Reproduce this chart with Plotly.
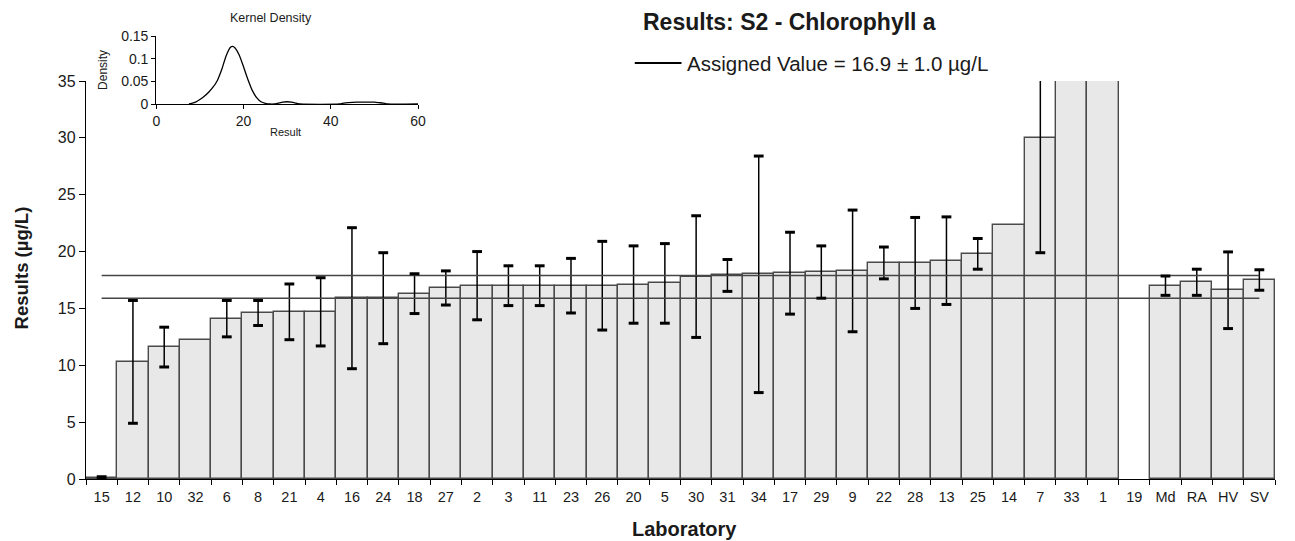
import plotly.graph_objects as go

# ---- data -------------------------------------------------------------
labs = ["15", "12", "10", "32", "6", "8", "21", "4", "16", "24", "18", "27",
        "2", "3", "11", "23", "26", "20", "5", "30", "31", "34", "17", "29",
        "9", "22", "28", "13", "25", "14", "7", "33", "1", "19",
        "Md", "RA", "HV", "SV"]

results = [0.1, 10.3, 11.6, 12.2, 14.1, 14.6, 14.7, 14.7, 15.9, 15.9, 16.3, 16.8,
           17.0, 17.0, 17.0, 17.0, 17.0, 17.1, 17.2, 17.8, 17.9, 18.0, 18.1, 18.2,
           18.3, 19.0, 19.0, 19.2, 19.8, 22.3, 30.0, 45.5, 48.5, None,
           17.0, 17.3, 16.6, 17.5]

uncert = [0.1, 5.4, 1.75, None, 1.6, 1.1, 2.45, 3.0, 6.2, 4.0, 1.75, 1.5,
          3.0, 1.75, 1.75, 2.4, 3.9, 3.4, 3.5, 5.35, 1.4, 10.4, 3.6, 2.3,
          5.35, 1.4, 4.0, 3.85, 1.35, None, 10.1, None, None, None,
          0.85, 1.15, 3.37, 0.9]

assigned_value = 16.9
assigned_unc = 1.0

kde_x = [7.5, 9, 10, 11, 12, 13, 14, 15, 16, 17, 17.5, 18, 19, 20, 21, 22, 23, 24,
         25, 26, 27, 28, 29, 30, 31, 32, 33, 42, 43, 44, 46, 48, 50, 51, 52, 53, 60]
kde_y = [0.0, 0.004, 0.010, 0.017, 0.026, 0.037, 0.052, 0.076, 0.106, 0.125, 0.127,
         0.124, 0.108, 0.082, 0.054, 0.030, 0.014, 0.005, 0.0015, 0.0, 0.0, 0.002,
         0.004, 0.005, 0.004, 0.002, 0.0, 0.0, 0.002, 0.003, 0.004, 0.004, 0.004,
         0.003, 0.002, 0.0, 0.0]

FONT = "Liberation Sans, Arial, sans-serif"
W, H = 1295, 541
ML, MR, MT, MB = 86, 13, 30, 62
PW, PH = W - ML - MR, H - MT - MB


def px(xp):
    return (xp - ML) / PW


def py(yp):
    return (H - MB - yp) / PH


fig = go.Figure()

# bars with uncertainty stems
fig.add_trace(go.Bar(
    x=labs, y=results, width=1,
    marker=dict(color="#e8e8e8", line=dict(color="#4a4a4a", width=1.4)),
    error_y=dict(type="data", array=[u if u is not None else 0 for u in uncert],
                 visible=True, color="black", thickness=1.5, width=0),
    showlegend=False, hoverinfo="x+y",
))

# assigned value band limits
for lvl in (assigned_value + assigned_unc, assigned_value - assigned_unc):
    fig.add_trace(go.Scatter(
        x=[labs[0], labs[-1]], y=[lvl, lvl], mode="lines",
        line=dict(color="#454545", width=1.5), showlegend=False, hoverinfo="skip",
    ))

# error bar caps
cap_x, cap_y = [], []
for lab, v, u in zip(labs, results, uncert):
    if v is None or u is None:
        continue
    cap_x += [lab, lab]
    cap_y += [v + u, v - u]
fig.add_trace(go.Scatter(
    x=cap_x, y=cap_y, mode="markers",
    marker=dict(symbol="line-ew", size=7, line=dict(width=3, color="black")),
    showlegend=False, hoverinfo="skip",
))

# kernel density inset
fig.add_trace(go.Scatter(
    x=kde_x, y=kde_y, xaxis="x2", yaxis="y2", mode="lines",
    line=dict(color="black", width=1.3, shape="spline", smoothing=0.6),
    showlegend=False, hoverinfo="skip",
))

main_top = py(81)

fig.update_layout(
    width=W, height=H,
    margin=dict(l=ML, r=MR, t=MT, b=MB),
    paper_bgcolor="white", plot_bgcolor="white",
    font=dict(family=FONT, color="#1a1a1a"),
    bargap=0,
    xaxis=dict(
        domain=[0, 1], anchor="y", type="category",
        categoryorder="array", categoryarray=labs, range=[-0.5, len(labs) - 0.5],
        showline=True, linecolor="black", linewidth=1.3,
        ticks="outside", tickson="boundaries", ticklen=5, tickcolor="black",
        tickfont=dict(size=14.5), ticklabelstandoff=4,
        showgrid=False, zeroline=False,
    ),
    yaxis=dict(
        domain=[0, main_top], anchor="x", range=[0, 35], dtick=5,
        showline=True, linecolor="black", linewidth=1.3,
        ticks="outside", ticklen=6, tickcolor="black",
        tickfont=dict(size=16), showgrid=False, zeroline=False,
    ),
    xaxis2=dict(
        domain=[px(156.7), px(420)], anchor="y2", range=[0, 60],
        tickvals=[0, 20, 40, 60],
        showline=True, linecolor="black", linewidth=1.2,
        ticks="outside", ticklen=4, tickcolor="black",
        tickfont=dict(size=14), showgrid=False, zeroline=False,
    ),
    yaxis2=dict(
        domain=[py(104), py(36)], anchor="x2", range=[0, 0.15],
        tickvals=[0, 0.05, 0.1, 0.15], ticktext=["0", "0.05", "0.1", "0.15"],
        showline=True, linecolor="black", linewidth=1.2,
        ticks="outside", ticklen=4, tickcolor="black",
        tickfont=dict(size=14), showgrid=False, zeroline=False,
    ),
    showlegend=False,
)

# legend sample line
fig.add_shape(type="line", xref="paper", yref="paper",
              x0=px(638), x1=px(685), y0=py(63), y1=py(63),
              line=dict(color="black", width=2))

annotations = [
    dict(text="<b>Results: S2 - Chlorophyll a</b>", x=px(794), y=py(22),
         font=dict(size=23), xanchor="center", yanchor="middle"),
    dict(text="Assigned Value = 16.9 ± 1.0 µg/L", x=px(689), y=py(63),
         font=dict(size=20.5), xanchor="left", yanchor="middle"),
    dict(text="<b>Results (µg/L)</b>", x=px(21), y=py(268), textangle=-90,
         font=dict(size=18.5), xanchor="center", yanchor="middle"),
    dict(text="<b>Laboratory</b>", x=px(688), y=py(529),
         font=dict(size=20), xanchor="center", yanchor="middle"),
    dict(text="Kernel Density", x=px(272), y=py(18),
         font=dict(size=12.5), xanchor="center", yanchor="middle"),
    dict(text="Result", x=px(287), y=py(132),
         font=dict(size=11), xanchor="center", yanchor="middle"),
    dict(text="Density", x=px(103), y=py(70), textangle=-90,
         font=dict(size=12), xanchor="center", yanchor="middle"),
]
for a in annotations:
    a.update(xref="paper", yref="paper", showarrow=False)
    fig.add_annotation(**a)

fig.write_html("out.html")
